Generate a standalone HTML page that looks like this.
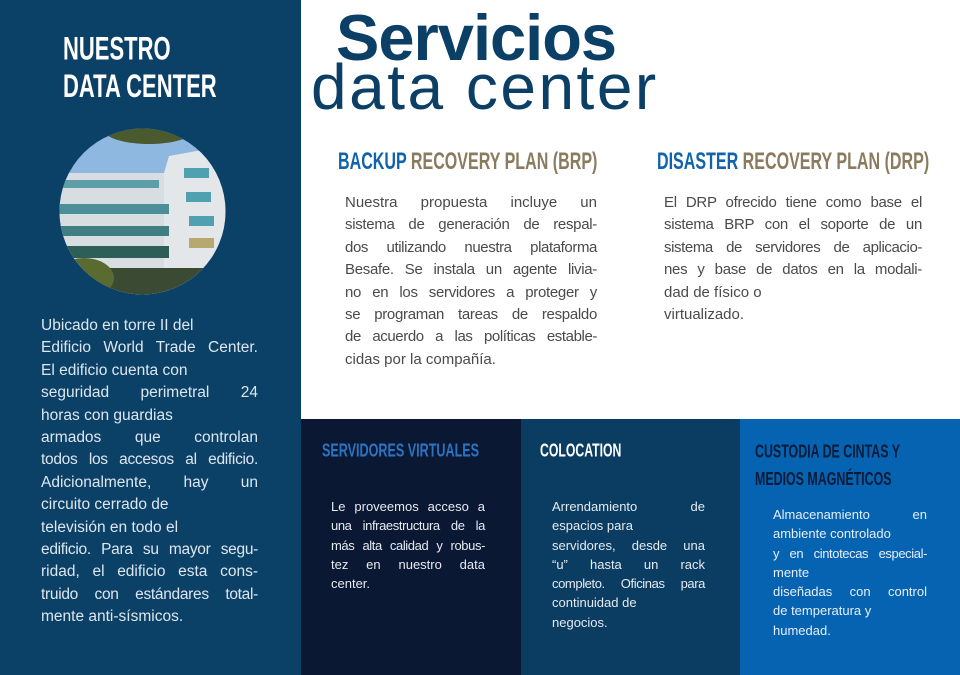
<!DOCTYPE html>
<html><head><meta charset="utf-8"><style>
*{margin:0;padding:0;box-sizing:border-box}
body{width:960px;height:675px;overflow:hidden;background:#fff;font-family:"Liberation Sans",sans-serif;position:relative}
.abs{position:absolute}
.cond{font-family:"Liberation Sans",sans-serif;font-weight:bold;transform-origin:0 0;white-space:nowrap}
.blk div{white-space:nowrap;overflow:visible}
.blk div.j{text-align:justify;text-align-last:justify}
</style></head><body>
<div class="abs" style="left:0;top:0;width:301px;height:675px;background:#0c4167"></div>
<div class="abs" style="left:301px;top:419px;width:220px;height:256px;background:#0b1834"></div>
<div class="abs" style="left:521px;top:419px;width:219px;height:256px;background:#0b3d62"></div>
<div class="abs" style="left:740px;top:419px;width:220px;height:256px;background:#0663b2"></div>

<div class="abs cond" style="left:63px;top:30px;color:#fff;font-size:31px;line-height:36px;transform:scale(0.71,1.05)">NUESTRO<br>DATA CENTER</div>

<svg class="abs" style="left:59px;top:128px" width="167" height="167" viewBox="0 0 167 167">
<defs><clipPath id="c"><circle cx="83.5" cy="83.5" r="83"/></clipPath></defs>
<g clip-path="url(#c)">
<rect width="167" height="167" fill="#8fb8e0"/>
<rect x="0" y="45" width="110" height="125" fill="#d8dde2"/>
<polygon points="105,45 110,28 165,18 167,18 167,167 105,167" fill="#e4e7ea"/>
<rect x="0" y="52" width="100" height="8" fill="#5e9ea8"/>
<rect x="0" y="76" width="110" height="10" fill="#4d8f98"/>
<rect x="0" y="98" width="110" height="10" fill="#3f7f84"/>
<rect x="0" y="118" width="110" height="12" fill="#2e5e58"/>
<rect x="125" y="40" width="25" height="10" fill="#4fa1b0"/>
<rect x="127" y="64" width="25" height="10" fill="#4fa1b0"/>
<rect x="130" y="88" width="25" height="10" fill="#4fa1b0"/>
<rect x="130" y="110" width="25" height="10" fill="#b7a870"/>
<rect x="0" y="140" width="167" height="27" fill="#3b4a33"/>
<ellipse cx="25" cy="150" rx="30" ry="20" fill="#5a6b32"/>
<ellipse cx="90" cy="2" rx="45" ry="14" fill="#4a5a2e"/>
</g></svg>

<div class="abs blk" style="left:41px;top:315px;width:217px;color:#dde6ef;font-size:15.5px;line-height:22.4px">
<div>Ubicado en torre II del</div>
<div class="j">Edificio World Trade Center.</div>
<div>El edificio cuenta con</div>
<div class="j">seguridad perimetral 24</div>
<div>horas con guardias</div>
<div class="j">armados que controlan</div>
<div class="j" style="letter-spacing:-0.3px">todos los accesos al edificio.</div>
<div class="j">Adicionalmente, hay un</div>
<div>circuito cerrado de</div>
<div>televisión en todo el</div>
<div class="j" style="letter-spacing:-0.3px">edificio. Para su mayor segu-</div>
<div class="j">ridad, el edificio esta cons-</div>
<div class="j" style="letter-spacing:-0.3px">truido con estándares total-</div>
<div>mente anti-sísmicos.</div>
</div>

<div class="abs" style="left:336px;top:0px;color:#0b3f66;font-size:65px;font-weight:bold;letter-spacing:-1px;white-space:nowrap">Servicios</div>
<div class="abs" style="left:311px;top:50px;color:#0b3f66;font-size:64px;white-space:nowrap;letter-spacing:2.5px">data center</div>

<div class="abs cond" style="left:338px;top:147px;font-size:22px;transform:scale(0.73,1.1)"><span style="color:#1163ad">BACKUP</span> <span style="color:#8b7b5e">RECOVERY PLAN (BRP)</span></div>
<div class="abs cond" style="left:657px;top:147px;font-size:22px;transform:scale(0.73,1.1)"><span style="color:#1163ad">DISASTER</span> <span style="color:#8b7b5e">RECOVERY PLAN (DRP)</span></div>

<div class="abs blk" style="left:345px;top:192px;width:252px;color:#4a4a4a;font-size:15px;line-height:22.4px">
<div class="j">Nuestra propuesta incluye un</div>
<div class="j" style="letter-spacing:-0.3px">sistema de generación de respal-</div>
<div class="j" style="letter-spacing:-0.4px">dos utilizando nuestra plataforma</div>
<div class="j" style="letter-spacing:-0.3px">Besafe. Se instala un agente livia-</div>
<div class="j" style="letter-spacing:-0.3px">no en los servidores a proteger y</div>
<div class="j" style="letter-spacing:-0.3px">se programan tareas de respaldo</div>
<div class="j" style="letter-spacing:-0.4px">de acuerdo a las políticas estable-</div>
<div>cidas por la compañía.</div>
</div>
<div class="abs blk" style="left:664px;top:192px;width:258px;color:#4a4a4a;font-size:15px;line-height:22.4px">
<div class="j" style="letter-spacing:-0.3px">El DRP ofrecido tiene como base el</div>
<div class="j" style="letter-spacing:-0.3px">sistema BRP con el soporte de un</div>
<div class="j" style="letter-spacing:-0.4px">sistema de servidores de aplicacio-</div>
<div class="j" style="letter-spacing:-0.3px">nes y base de datos en la modali-</div>
<div>dad de físico o</div>
<div>virtualizado.</div>
</div>

<div class="abs cond" style="left:322px;top:440px;font-size:17px;color:#2a74c2;transform:scale(0.74,1.1)">SERVIDORES VIRTUALES</div>
<div class="abs cond" style="left:540px;top:440px;font-size:17px;color:#fff;transform:scale(0.72,1.1)">COLOCATION</div>
<div class="abs cond" style="left:755px;top:439px;font-size:17px;color:#0b1b38;line-height:24.5px;transform:scale(0.73,1.1)">CUSTODIA DE CINTAS Y<br>MEDIOS MAGNÉTICOS</div>

<div class="abs blk" style="left:331px;top:497px;width:154px;color:#e6eaf0;font-size:13px;line-height:19.3px">
<div class="j">Le proveemos acceso a</div>
<div class="j" style="letter-spacing:-0.4px">una infraestructura de la</div>
<div class="j" style="letter-spacing:-0.4px">más alta calidad y robus-</div>
<div class="j">tez en nuestro data</div>
<div>center.</div>
</div>
<div class="abs blk" style="left:552px;top:497px;width:153px;color:#e6eaf0;font-size:13px;line-height:19.3px">
<div class="j">Arrendamiento de</div>
<div>espacios para</div>
<div class="j">servidores, desde una</div>
<div class="j">“u” hasta un rack</div>
<div class="j" style="letter-spacing:-0.4px">completo. Oficinas para</div>
<div>continuidad de</div>
<div>negocios.</div>
</div>
<div class="abs blk" style="left:773px;top:505px;width:154px;color:#e6eef8;font-size:13px;line-height:19.3px">
<div class="j">Almacenamiento en</div>
<div>ambiente controlado</div>
<div class="j" style="letter-spacing:-0.4px">y en cintotecas especial-</div>
<div>mente</div>
<div class="j">diseñadas con control</div>
<div>de temperatura y</div>
<div>humedad.</div>
</div>
</body></html>
